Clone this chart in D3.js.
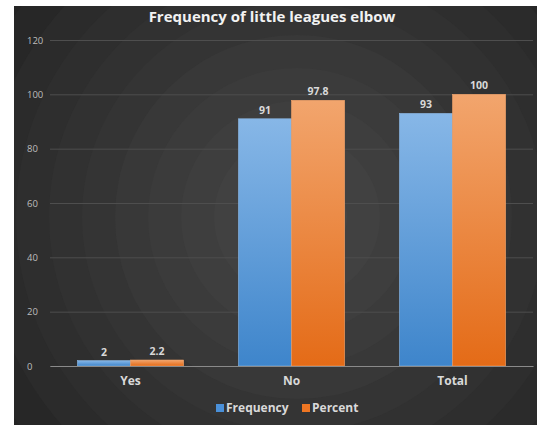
<!DOCTYPE html>
<html>
<head>
<meta charset="utf-8">
<script src="https://cdn.jsdelivr.net/npm/d3@7"></script>
<style>
  html, body { margin: 0; padding: 0; background: #fff; }
  svg { display: block; }
  text { font-family: "Open Sans", "DejaVu Sans", sans-serif; }
</style>
</head>
<body>
<svg id="chart" width="537" height="425"></svg>
<script>
// Chart data
const categories = ["Yes", "No", "Total"];
const seriesNames = ["Frequency", "Percent"];
const frequency = [2, 91, 93];
const percent = [2.2, 97.8, 100];
const yTicks = [0, 20, 40, 60, 80, 100, 120];

const W = 537, H = 425;
const panel = { x: 14, y: 6, w: W - 14, h: H - 6 };
const margin = { left: 50, right: 4, top: 40, bottom: 59 };

const svg = d3.select("#chart");
const defs = svg.append("defs");

// Panel clip + concentric ring background
defs.append("clipPath").attr("id", "panelClip")
  .append("rect").attr("x", panel.x).attr("y", panel.y).attr("width", panel.w).attr("height", panel.h);

const bg = svg.append("g").attr("clip-path", "url(#panelClip)");
bg.append("rect").attr("x", panel.x).attr("y", panel.y).attr("width", panel.w).attr("height", panel.h)
  .attr("fill", "#232323");
const ringCx = 297, ringCy = 217;
const ringRadii = d3.range(12).map(i => 380 - i * 33);
const ringColor = d3.scaleLinear().domain([380, 17]).range(["#242424", "#484848"]);
bg.selectAll("circle.ring").data(ringRadii).join("circle")
  .attr("class", "ring")
  .attr("cx", ringCx).attr("cy", ringCy).attr("r", d => d)
  .attr("fill", d => ringColor(d));

// Bar gradients
function grad(id, top, bottom) {
  const g = defs.append("linearGradient").attr("id", id)
    .attr("x1", 0).attr("y1", 0).attr("x2", 0).attr("y2", 1);
  g.append("stop").attr("offset", "0%").attr("stop-color", top);
  g.append("stop").attr("offset", "100%").attr("stop-color", bottom);
}
grad("gFreq", "#87b7e7", "#3e85cb");
grad("gPct", "#f2a56d", "#e46b17");

const x0 = d3.scaleBand().domain(categories)
  .range([margin.left, W - margin.right]).paddingInner(0.34).paddingOuter(0.17);
const x1 = d3.scaleBand().domain(seriesNames).range([0, x0.bandwidth()]);
const y = d3.scaleLinear().domain([0, 120]).range([H - margin.bottom, margin.top]);

// Gridlines
const grid = svg.append("g")
  .attr("transform", `translate(${margin.left},0)`)
  .call(d3.axisLeft(y).tickValues(yTicks).tickSize(-(W - margin.right - margin.left)).tickFormat(""));
grid.select(".domain").remove();
grid.selectAll(".tick line").attr("stroke", "#4e4e4e").attr("stroke-width", 1);

// Y tick labels
const yAxis = svg.append("g")
  .attr("transform", `translate(${margin.left},0)`)
  .call(d3.axisLeft(y).tickValues(yTicks).tickSize(0).tickPadding(12));
yAxis.select(".domain").remove();
yAxis.selectAll("text").attr("fill", "#bdbdbd").attr("font-size", 9.5)
  .attr("text-anchor", "start").attr("x", -23);

// Bars
const rows = categories.map((c, i) => ({ cat: c, vals: [frequency[i], percent[i]] }));
const groups = svg.append("g").selectAll("g").data(rows).join("g")
  .attr("transform", d => `translate(${x0(d.cat)},0)`);
groups.selectAll("rect").data(d => d.vals.map((v, j) => ({ s: seriesNames[j], v })))
  .join("rect")
  .attr("x", d => x1(d.s))
  .attr("width", x1.bandwidth())
  .attr("y", d => y(d.v))
  .attr("height", d => y(0) - y(d.v))
  .attr("fill", d => d.s === "Frequency" ? "url(#gFreq)" : "url(#gPct)")
  .attr("stroke", d => d.s === "Frequency" ? "#8ab4de" : "#f0a26a")
  .attr("stroke-width", 0.6);

groups.selectAll("text").data(d => d.vals.map((v, j) => ({ s: seriesNames[j], v })))
  .join("text")
  .attr("x", d => x1(d.s) + x1.bandwidth() / 2)
  .attr("y", d => y(d.v) - 5)
  .attr("text-anchor", "middle")
  .attr("fill", "#d9d9d9").attr("font-size", 10.5).attr("font-weight", "bold")
  .text(d => d.v);

// X axis
const xAxis = svg.append("g")
  .attr("transform", `translate(0,${y(0)})`)
  .call(d3.axisBottom(x0).tickSize(0).tickPadding(10));
xAxis.select(".domain").attr("stroke", "#8a8a8a").attr("stroke-width", 1.2);
xAxis.selectAll("text").attr("fill", "#d9d9d9").attr("font-size", 12).attr("font-weight", "bold");

// Title
svg.append("text").attr("x", 272).attr("y", 22).attr("text-anchor", "middle")
  .attr("fill", "#f2f2f2").attr("font-size", 15).attr("font-weight", "bold")
  .text("Frequency of little leagues elbow");

// Legend
const legendColors = ["#4a90d9", "#ee7623"];
const legend = svg.append("g").attr("transform", "translate(216,405)");
const lx = [0, 86];
seriesNames.forEach((s, i) => {
  const g = legend.append("g").attr("transform", `translate(${lx[i]},0)`);
  g.append("rect").attr("x", 0).attr("y", -1).attr("width", 8).attr("height", 8).attr("fill", legendColors[i]);
  g.append("text").attr("x", 10).attr("y", 7).attr("fill", "#d9d9d9")
    .attr("font-size", 12).attr("font-weight", "bold").text(s);
});
</script>
</body>
</html>
